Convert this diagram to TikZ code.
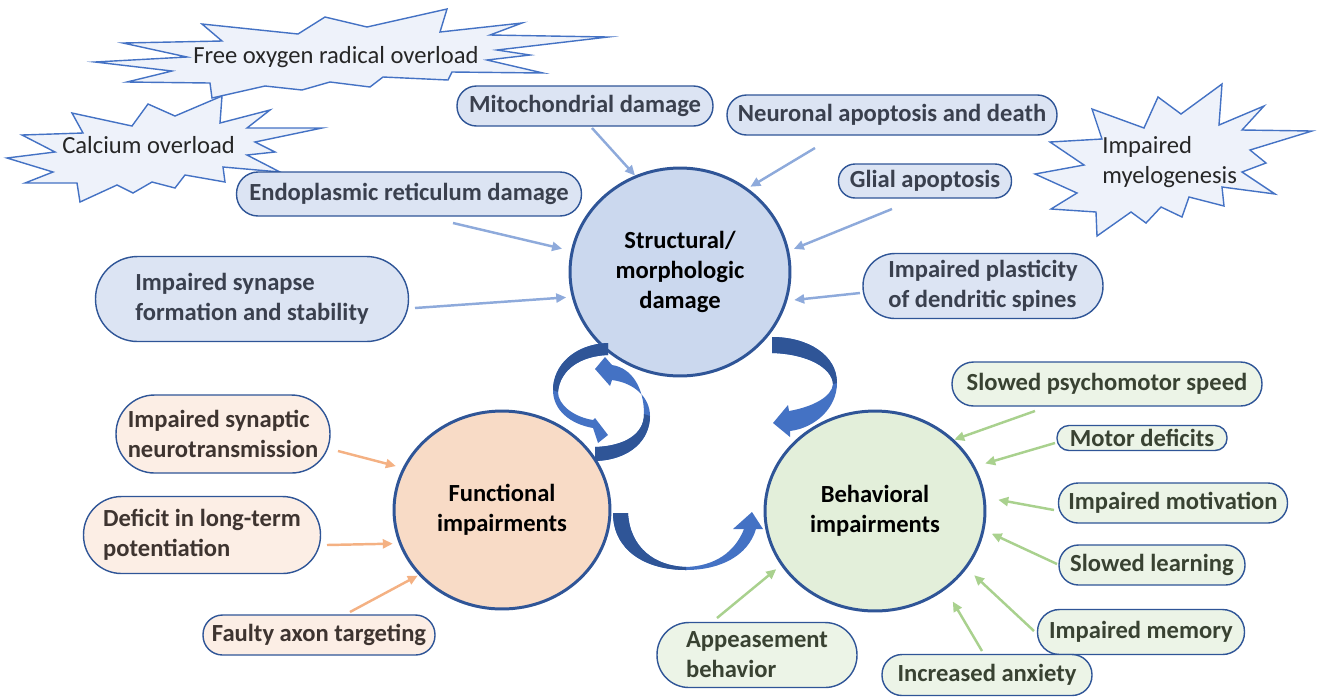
\documentclass[tikz,border=0pt]{standalone}
\usepackage{fontspec}
\setmainfont{Carlito}
\usetikzlibrary{shapes.geometric,arrows.meta}
\definecolor{bord}{HTML}{2F5597}
\definecolor{burstline}{HTML}{4472C4}
\definecolor{burstfill}{HTML}{EEF2FA}
\definecolor{sfill}{HTML}{CBD8EE}
\definecolor{ffill}{HTML}{F8DBC6}
\definecolor{bfill}{HTML}{E3EFDA}
\definecolor{sbox}{HTML}{DCE4F3}
\definecolor{fbox}{HTML}{FCEEE5}
\definecolor{gbox}{HTML}{ECF4E7}
\definecolor{stxt}{HTML}{3A404E}
\definecolor{ftxt}{HTML}{3E3430}
\definecolor{btxt}{HTML}{394232}
\definecolor{barr}{HTML}{8EAADB}
\definecolor{oarr}{HTML}{F4B183}
\definecolor{garr}{HTML}{A9D18E}
\definecolor{bkdark}{HTML}{2F5597}
\definecolor{bklight}{HTML}{4472C4}
\definecolor{bursttxt}{HTML}{262626}
\begin{document}
\begin{tikzpicture}[x=0.02cm,y=-0.02cm,
  pill/.style={draw=bord, line width=0.8pt, inner sep=0pt, align=left, font=\bfseries\fontsize{14}{17}\selectfont},
  spill/.style={pill, fill=sbox, text=stxt},
  fpill/.style={pill, fill=fbox, text=ftxt},
  gpill/.style={pill, fill=gbox, text=btxt},
  hub/.style={ellipse, draw=bord, line width=1.7pt, inner sep=0pt, align=center, font=\bfseries\fontsize{14}{17}\selectfont, text=black},
  conn/.style={line width=1.4pt, -{Triangle[length=0.2cm,width=0.18cm]}},
  bconn/.style={conn, draw=barr, fill=barr},
  oconn/.style={conn, draw=oarr, fill=oarr},
  gconn/.style={conn, draw=garr, fill=garr},
  burst/.style={draw=burstline, fill=burstfill, line width=0.8pt, line join=miter, miter limit=20},
  bursttext/.style={font=\fontsize{14}{17}\selectfont, text=bursttxt, inner sep=0pt},
]
\useasboundingbox (0,0) rectangle (1319,698);

% starbursts
\draw[burst] (95,62) -- (187,57) -- (123,43) -- (222,41) -- (202,24) -- (298,34) -- (325,17) -- (367,27) -- (447,9) -- (440,32) -- (522,23) -- (490,35) -- (608,37) -- (497,50) -- (530,55) -- (487,60) -- (543,73) -- (452,72) -- (448,80) -- (383,77) -- (370,87) -- (330,82) -- (302,90) -- (265,86) -- (212,98) -- (210,83) -- (127,82) -- (172,71) -- cycle;
\draw[burst] (72,113) -- (132,126) -- (148,104) -- (175,116) -- (222,96) -- (220,123) -- (270,110) -- (247,128) -- (322,128) -- (255,142) -- (275,152) -- (247,155) -- (280,172) -- (223,167) -- (225,182) -- (185,175) -- (175,188) -- (152,182) -- (133,193) -- (117,185) -- (80,202) -- (77,183) -- (25,183) -- (53,172) -- (7,158) -- (55,152) -- (22,135) -- (83,133) -- cycle;
\draw[burst] (1092,109) -- (1144,128) -- (1158,97) -- (1181,114) -- (1222,84) -- (1219,125) -- (1264,106) -- (1242,130) -- (1312,131) -- (1250,150) -- (1266,163) -- (1242,172) -- (1275,194) -- (1222,187) -- (1224,206) -- (1189,197) -- (1182,217) -- (1161,207) -- (1146,223) -- (1131,212) -- (1097,236) -- (1096,212) -- (1051,209) -- (1077,193) -- (1035,174) -- (1084,165) -- (1050,142) -- (1102,139) -- cycle;
\node[bursttext, anchor=base west] (oxy) at (193,63) {Free oxygen radical overload};
\node[bursttext, anchor=base west] (cal) at (62,153) {Calcium overload};
\node[bursttext, anchor=base west] (mye1) at (1102,153) {Impaired};
\node[bursttext, anchor=base west] (mye2) at (1102,183) {myelogenesis};

% hubs
\node[hub, fill=sfill, minimum width=4.40cm, minimum height=4.16cm] (struct) at (680,272) {Structural/\\morphologic\\damage};
\node[hub, fill=ffill, minimum width=4.32cm, minimum height=3.96cm] (func) at (502,510) {Functional\\impairments};
\node[hub, fill=bfill, minimum width=4.40cm, minimum height=4.00cm] (behav) at (875,511) {Behavioral\\impairments};

% structural boxes
\node[spill, minimum width=5.12cm, minimum height=0.80cm, rounded corners=0.39cm] (mito) at (585,106) {Mitochondrial damage};
\node[spill, minimum width=6.60cm, minimum height=0.80cm, rounded corners=0.39cm] (neur) at (892,115) {Neuronal apoptosis and death};
\node[spill, minimum width=6.90cm, minimum height=0.88cm, rounded corners=0.43cm] (er) at (409,194) {Endoplasmic reticulum damage};
\node[spill, minimum width=3.46cm, minimum height=0.68cm, rounded corners=0.33cm] (glial) at (925,181) {Glial apoptosis};
\node[spill, minimum width=4.80cm, minimum height=1.30cm, rounded corners=0.64cm] (plast) at (983,286) {Impaired plasticity\\of dendritic spines};
\node[spill, minimum width=6.26cm, minimum height=1.70cm, rounded corners=0.84cm] (syn) at (252,299) {Impaired synapse\\formation and stability};

% functional boxes
\node[fpill, minimum width=4.28cm, minimum height=1.56cm, rounded corners=0.77cm] (synap) at (223,434) {Impaired synaptic\\neurotransmission};
\node[fpill, minimum width=4.74cm, minimum height=1.54cm, rounded corners=0.76cm] (ltp) at (202,535) {Deficit in long-term\\potentiation};
\node[fpill, minimum width=4.64cm, minimum height=0.80cm, rounded corners=0.39cm] (axon) at (319,635) {Faulty axon targeting};

% behavioral boxes
\node[gpill, minimum width=6.20cm, minimum height=0.88cm, rounded corners=0.43cm] (psych) at (1107,384) {Slowed psychomotor speed};
\node[gpill, minimum width=3.40cm, minimum height=0.50cm, rounded corners=0.24cm] (motor) at (1142,438) {Motor deficits};
\node[gpill, minimum width=4.58cm, minimum height=0.80cm, rounded corners=0.39cm] (motiv) at (1173,503) {Impaired motivation};
\node[gpill, minimum width=3.72cm, minimum height=0.80cm, rounded corners=0.39cm] (learn) at (1152,565) {Slowed learning};
\node[gpill, minimum width=4.14cm, minimum height=0.90cm, rounded corners=0.44cm] (memo) at (1141,632) {Impaired memory};
\node[gpill, minimum width=4.20cm, minimum height=0.82cm, rounded corners=0.40cm] (anx) at (987,675) {Increased anxiety};
\node[gpill, minimum width=4.00cm, minimum height=1.30cm, rounded corners=0.64cm] (appe) at (757,655) {Appeasement\\behavior};

% arrow start points
\coordinate (sb1) at (592,128);
\coordinate (sb2) at (815,148);
\coordinate (sb3) at (453,223);
\coordinate (sb4) at (415,308);
\coordinate (sb5) at (892,209);
\coordinate (sb6) at (860,293);
\coordinate (so1) at (338,451);
\coordinate (so2) at (327,545);
\coordinate (so3) at (350,612);
\coordinate (sg1) at (1035,411);
\coordinate (sg2) at (1055,443);
\coordinate (sg3) at (1054,510);
\coordinate (sg4) at (1057,564);
\coordinate (sg5) at (1034,631);
\coordinate (sg6) at (982,651);
\coordinate (sg7) at (717,618);

\draw[bconn] (sb1) -- (struct.115.4);
\draw[bconn, shorten >=0.06cm] (sb2) -- (struct.51.3);
\draw[bconn, shorten >=0.18cm] (sb3) -- (struct.169.8);
\draw[bconn, shorten >=0.11cm] (sb4) -- (struct.193.6);
\draw[bconn, shorten >=0.10cm] (sb5) -- (struct.11);
\draw[bconn, shorten >=0.14cm] (sb6) -- (struct.-15.5);

\draw[oconn, shorten >=0.14cm] (so1) -- (func.157.7);
\draw[oconn, shorten >=0.12cm] (so2) -- (func.198);
\draw[oconn, shorten >=0.02cm] (so3) -- (func.218.1);

\draw[gconn] (sg1) -- (behav.42.3);
\draw[gconn, shorten >=0.21cm] (sg2) -- (behav.24.4);
\draw[gconn, shorten >=0.26cm] (sg3) -- (behav.7);
\draw[gconn, shorten >=0.16cm] (sg4) -- (behav.-10.7);
\draw[gconn, shorten >=0.20cm] (sg5) -- (behav.-32.1);
\draw[gconn, shorten >=0.28cm] (sg6) -- (behav.-48.8);
\draw[gconn, shorten >=0.12cm] (sg7) -- (behav.210.9);

% curved block arrows
% B1a: structural -> functional (left of loop)
\fill[bklight] (608,343) .. controls (575,344) and (553,365) .. (553,390) .. controls (553,410) and (570,424) .. (593,428) -- (598,443) -- (608,435) -- (595,418) -- (593,420) .. controls (574,417) and (558,405) .. (558,392) .. controls (560,370) and (580,356) .. (608,355) -- cycle;
\fill[bkdark] (608,343) .. controls (575,344) and (553,365) .. (553,390) -- (558,392) .. controls (560,370) and (580,356) .. (608,355) -- cycle;
% B1b: functional -> structural (right of loop)
\fill[bklight] (595,461) .. controls (630,460) and (650,440) .. (650,416) .. controls (650,398) and (635,383) .. (612,380) -- (610,386) -- (595,369) -- (605,357) -- (612,365) .. controls (632,368) and (644,388) .. (644,414) .. controls (644,434) and (625,446) .. (595,447) -- cycle;
\fill[bkdark] (595,461) .. controls (630,460) and (650,440) .. (650,416) -- (644,414) .. controls (644,434) and (625,446) .. (595,447) -- cycle;
% B2: structural -> behavioral
\fill[bklight] (772,337) .. controls (808,337) and (837,355) .. (837,383) .. controls (837,408) and (815,428) .. (790,431) -- (790,437) -- (773,423) -- (788,405) -- (789,411) .. controls (812,407) and (832,397) .. (833,384) .. controls (832,368) and (808,354) .. (772,353) -- cycle;
\fill[bkdark] (772,337) .. controls (808,337) and (837,355) .. (837,383) -- (833,384) .. controls (832,368) and (808,354) .. (772,353) -- cycle;
% B3: functional -> behavioral
\fill[bklight] (613,513) -- (628,513) .. controls (630,548) and (655,566) .. (686,567) .. controls (715,566) and (735,552) .. (744,529) -- (733,529) -- (752,512) -- (763,529) -- (756,529) .. controls (748,556) and (720,570) .. (686,570) .. controls (645,570) and (613,550) .. (613,513) -- cycle;
\fill[bkdark] (613,513) -- (628,513) .. controls (630,548) and (655,566) .. (686,567) -- (686,570) .. controls (645,570) and (613,550) .. (613,513) -- cycle;
\end{tikzpicture}
\end{document}
